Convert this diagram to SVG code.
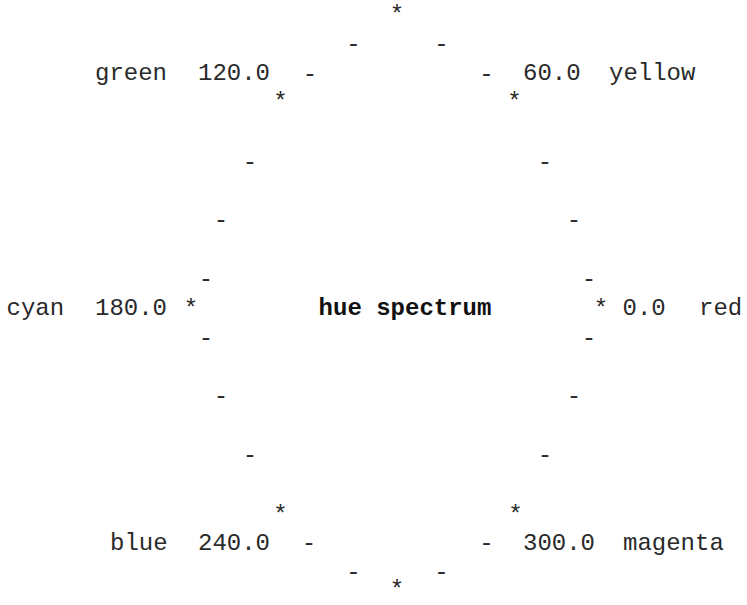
<svg xmlns="http://www.w3.org/2000/svg" width="747" height="605" viewBox="0 0 747 605">
<style>
text{font-family:"Liberation Mono","Courier New",monospace;font-size:24px;fill:#2a2a2a;}
.c{text-anchor:middle;}
.b{font-weight:bold;fill:#111;}
</style>
<rect width="747" height="605" fill="#fff"/>
<g id="connectors">
<text class="c" x="353.5" y="50.5">-</text><text class="c" x="441.5" y="50.5">-</text>
<text class="c" x="310" y="80.5">-</text><text class="c" x="486.5" y="80.5">-</text>
<text class="c" x="250" y="168.5">-</text><text class="c" x="545" y="168.5">-</text>
<text class="c" x="221" y="226.5">-</text><text class="c" x="574" y="226.5">-</text>
<text class="c" x="206" y="285.5">-</text><text class="c" x="589" y="285.5">-</text>
<text class="c" x="206" y="344.5">-</text><text class="c" x="589" y="344.5">-</text>
<text class="c" x="221" y="402.5">-</text><text class="c" x="574" y="402.5">-</text>
<text class="c" x="250" y="461.5">-</text><text class="c" x="545" y="461.5">-</text>
<text class="c" x="309" y="549.5">-</text><text class="c" x="486.5" y="549.5">-</text>
<text class="c" x="353.5" y="578.5">-</text><text class="c" x="441.5" y="578.5">-</text>
</g>
<g id="top"><text class="c" x="397" y="22">*</text></g>
<g id="bottom"><text class="c" x="397" y="597">*</text></g>
<g id="green"><text x="95" y="80">green</text><text x="198" y="80">120.0</text><text class="c" x="280.5" y="109">*</text></g>
<g id="yellow"><text x="523" y="80">60.0</text><text x="609" y="80">yellow</text><text class="c" x="514.5" y="109">*</text></g>
<g id="cyan"><text x="6.5" y="315">cyan</text><text x="95" y="315">180.0</text><text class="c" x="191" y="315.5">*</text></g>
<g id="center"><text class="c b" x="405" y="315">hue spectrum</text></g>
<g id="red"><text class="c" x="601" y="315.5">*</text><text x="622.5" y="315">0.0</text><text x="699" y="315">red</text></g>
<g id="blue"><text class="c" x="280.5" y="522">*</text><text x="110" y="550">blue</text><text x="198" y="550">240.0</text></g>
<g id="magenta"><text class="c" x="515.5" y="522">*</text><text x="523" y="550">300.0</text><text x="623" y="550">magenta</text></g>
</svg>
